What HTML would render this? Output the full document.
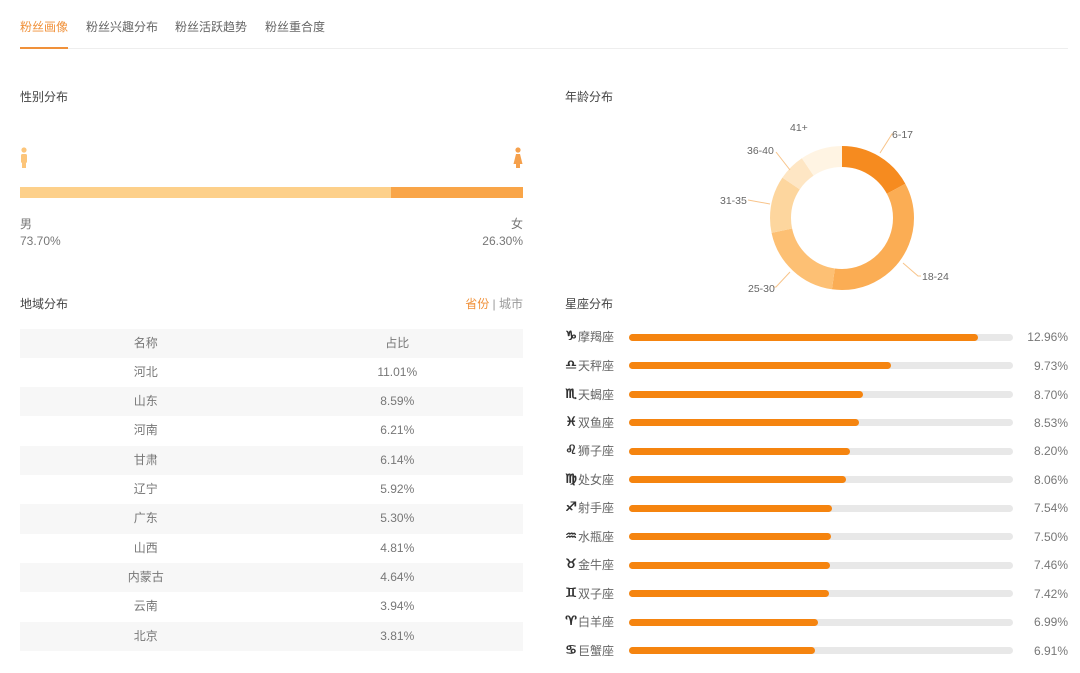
<!DOCTYPE html>
<html><head><meta charset="utf-8">
<style>
*{margin:0;padding:0;box-sizing:border-box}
body{width:1080px;height:673px;background:#fff;position:relative;overflow:hidden;font-family:"Liberation Sans","Noto Sans CJK SC",sans-serif;font-size:12px;color:#444}
.a{position:absolute;line-height:16px;white-space:nowrap}
.tab{color:#666}
.g{color:#777}
.row{position:absolute;left:20px;width:503px;height:29.3px;line-height:29.3px;color:#777}
.row.s{background:#f7f7f7}
.row span{position:absolute;width:251.5px;text-align:center;top:0}
.row span.c2{left:251.5px}
.zi{position:absolute;left:564px;width:14px;text-align:center;font-family:"DejaVu Sans",sans-serif;font-weight:bold;color:#333;font-size:13px;line-height:16px;text-shadow:0.5px 0 0 #333,-0.3px 0 0 #333}
.zt{position:absolute;left:578px;line-height:16px;color:#666}
.tr{position:absolute;left:629px;width:384px;height:7px;border-radius:4px;background:#e8e8e8}
.br{position:absolute;left:0;top:0;height:7px;border-radius:4px;background:#f5840f}
.zv{position:absolute;right:12px;line-height:16px;color:#777;text-align:right}
</style></head><body>

<!-- tabs -->
<div class="a" style="left:20px;top:19px;color:#f0913a">粉丝画像</div>
<div class="a tab" style="left:86px;top:19px">粉丝兴趣分布</div>
<div class="a tab" style="left:175px;top:19px">粉丝活跃趋势</div>
<div class="a tab" style="left:265px;top:19px">粉丝重合度</div>
<div style="position:absolute;left:20px;top:48px;width:1048px;height:1px;background:#eeeeee"></div>
<div style="position:absolute;left:20px;top:47px;width:48px;height:2px;background:#f0913a"></div>

<!-- gender -->
<div class="a" style="left:20px;top:89px">性别分布</div>
<svg style="position:absolute;left:18px;top:146px" width="12" height="26" viewBox="0 0 12 26">
 <circle cx="6" cy="4" r="2.6" fill="#fcc57a"/>
 <rect x="3" y="8" width="6" height="9" rx="1.5" fill="#fcc57a"/>
 <rect x="4" y="15" width="4" height="7" fill="#fcc57a"/>
</svg>
<svg style="position:absolute;left:512px;top:146px" width="12" height="26" viewBox="0 0 12 26">
 <circle cx="6" cy="4" r="2.6" fill="#f5a04c"/>
 <path d="M4 8 H8 L10.5 18 H1.5 Z" fill="#f5a04c"/>
 <rect x="4" y="17" width="4" height="5" fill="#f5a04c"/>
</svg>
<div style="position:absolute;left:20px;top:187px;width:371px;height:11px;background:#fdd08a"></div>
<div style="position:absolute;left:391px;top:187px;width:132px;height:11px;background:#f9a548"></div>
<div class="a g" style="left:20px;top:216px">男</div>
<div class="a g" style="left:20px;top:233px">73.70%</div>
<div class="a g" style="right:557px;top:216px">女</div>
<div class="a g" style="right:557px;top:233px">26.30%</div>

<!-- age donut -->
<div class="a" style="left:565px;top:89px">年龄分布</div>
<svg style="position:absolute;left:0;top:0" width="1080" height="320">
 <g transform="rotate(-90 842 218)" fill="none" stroke-width="21">
  <circle cx="842" cy="218" r="61.5" stroke="#f68b1f" stroke-dasharray="66.1 400" stroke-dashoffset="0"/>
  <circle cx="842" cy="218" r="61.5" stroke="#fbad54" stroke-dasharray="135.7 400" stroke-dashoffset="-66.1"/>
  <circle cx="842" cy="218" r="61.5" stroke="#fdc074" stroke-dasharray="75.1 400" stroke-dashoffset="-201.8"/>
  <circle cx="842" cy="218" r="61.5" stroke="#fdd69e" stroke-dasharray="49.4 400" stroke-dashoffset="-276.9"/>
  <circle cx="842" cy="218" r="61.5" stroke="#fee6c4" stroke-dasharray="23.6 400" stroke-dashoffset="-326.3"/>
  <circle cx="842" cy="218" r="61.5" stroke="#fff4e3" stroke-dasharray="36.6 400" stroke-dashoffset="-349.9"/>
 </g>
 <g stroke="#f8c48a" stroke-width="1" fill="none">
  <polyline points="880,153 892,134 894,134"/>
  <polyline points="903,263 918,276 921,276"/>
  <polyline points="790,272 776,287 774,287"/>
  <polyline points="770,204 748,200"/>
  <polyline points="790,170 776,152"/>
 </g>
 <g font-family="Liberation Sans, sans-serif" font-size="10.5" fill="#666">
  <text x="790" y="131">41+</text>
  <text x="892" y="138">6-17</text>
  <text x="747" y="154">36-40</text>
  <text x="720" y="204">31-35</text>
  <text x="922" y="280">18-24</text>
  <text x="748" y="292">25-30</text>
 </g>
</svg>

<!-- region -->
<div class="a" style="left:20px;top:296px">地域分布</div>
<div class="a" style="right:557px;top:296px"><span style="color:#f0913a">省份</span> <span style="color:#999">| 城市</span></div>
<div class="row s" style="top:328.5px"><span>名称</span><span class="c2">占比</span></div>
<div class="row" style="top:357.8px"><span>河北</span><span class="c2">11.01%</span></div>
<div class="row s" style="top:387.1px"><span>山东</span><span class="c2">8.59%</span></div>
<div class="row" style="top:416.4px"><span>河南</span><span class="c2">6.21%</span></div>
<div class="row s" style="top:445.7px"><span>甘肃</span><span class="c2">6.14%</span></div>
<div class="row" style="top:475px"><span>辽宁</span><span class="c2">5.92%</span></div>
<div class="row s" style="top:504.3px"><span>广东</span><span class="c2">5.30%</span></div>
<div class="row" style="top:533.6px"><span>山西</span><span class="c2">4.81%</span></div>
<div class="row s" style="top:562.9px"><span>内蒙古</span><span class="c2">4.64%</span></div>
<div class="row" style="top:592.2px"><span>云南</span><span class="c2">3.94%</span></div>
<div class="row s" style="top:621.5px"><span>北京</span><span class="c2">3.81%</span></div>

<!-- zodiac -->
<div class="a" style="left:565px;top:296px">星座分布</div>

<div class="zi" style="top:329px">♑&#xFE0E;</div><div class="zt" style="top:329px">摩羯座</div>
<div class="tr" style="top:333.5px"><div class="br" style="width:349px"></div></div><div class="zv" style="top:329px">12.96%</div>

<div class="zi" style="top:358px">♎&#xFE0E;</div><div class="zt" style="top:358px">天秤座</div>
<div class="tr" style="top:362px"><div class="br" style="width:262px"></div></div><div class="zv" style="top:358px">9.73%</div>

<div class="zi" style="top:387px">♏&#xFE0E;</div><div class="zt" style="top:387px">天蝎座</div>
<div class="tr" style="top:390.5px"><div class="br" style="width:234px"></div></div><div class="zv" style="top:387px">8.70%</div>

<div class="zi" style="top:415px">♓&#xFE0E;</div><div class="zt" style="top:415px">双鱼座</div>
<div class="tr" style="top:419px"><div class="br" style="width:230px"></div></div><div class="zv" style="top:415px">8.53%</div>

<div class="zi" style="top:443px">♌&#xFE0E;</div><div class="zt" style="top:443px">狮子座</div>
<div class="tr" style="top:447.5px"><div class="br" style="width:221px"></div></div><div class="zv" style="top:443px">8.20%</div>

<div class="zi" style="top:472px">♍&#xFE0E;</div><div class="zt" style="top:472px">处女座</div>
<div class="tr" style="top:476px"><div class="br" style="width:217px"></div></div><div class="zv" style="top:472px">8.06%</div>

<div class="zi" style="top:500px">♐&#xFE0E;</div><div class="zt" style="top:500px">射手座</div>
<div class="tr" style="top:504.5px"><div class="br" style="width:203px"></div></div><div class="zv" style="top:500px">7.54%</div>

<div class="zi" style="top:529px">♒&#xFE0E;</div><div class="zt" style="top:529px">水瓶座</div>
<div class="tr" style="top:533px"><div class="br" style="width:202px"></div></div><div class="zv" style="top:529px">7.50%</div>

<div class="zi" style="top:557px">♉&#xFE0E;</div><div class="zt" style="top:557px">金牛座</div>
<div class="tr" style="top:561.5px"><div class="br" style="width:201px"></div></div><div class="zv" style="top:557px">7.46%</div>

<div class="zi" style="top:586px">♊&#xFE0E;</div><div class="zt" style="top:586px">双子座</div>
<div class="tr" style="top:590px"><div class="br" style="width:200px"></div></div><div class="zv" style="top:586px">7.42%</div>

<div class="zi" style="top:614px">♈&#xFE0E;</div><div class="zt" style="top:614px">白羊座</div>
<div class="tr" style="top:618.5px"><div class="br" style="width:189px"></div></div><div class="zv" style="top:614px">6.99%</div>

<div class="zi" style="top:643px">♋&#xFE0E;</div><div class="zt" style="top:643px">巨蟹座</div>
<div class="tr" style="top:647px"><div class="br" style="width:186px"></div></div><div class="zv" style="top:643px">6.91%</div>

</body></html>
